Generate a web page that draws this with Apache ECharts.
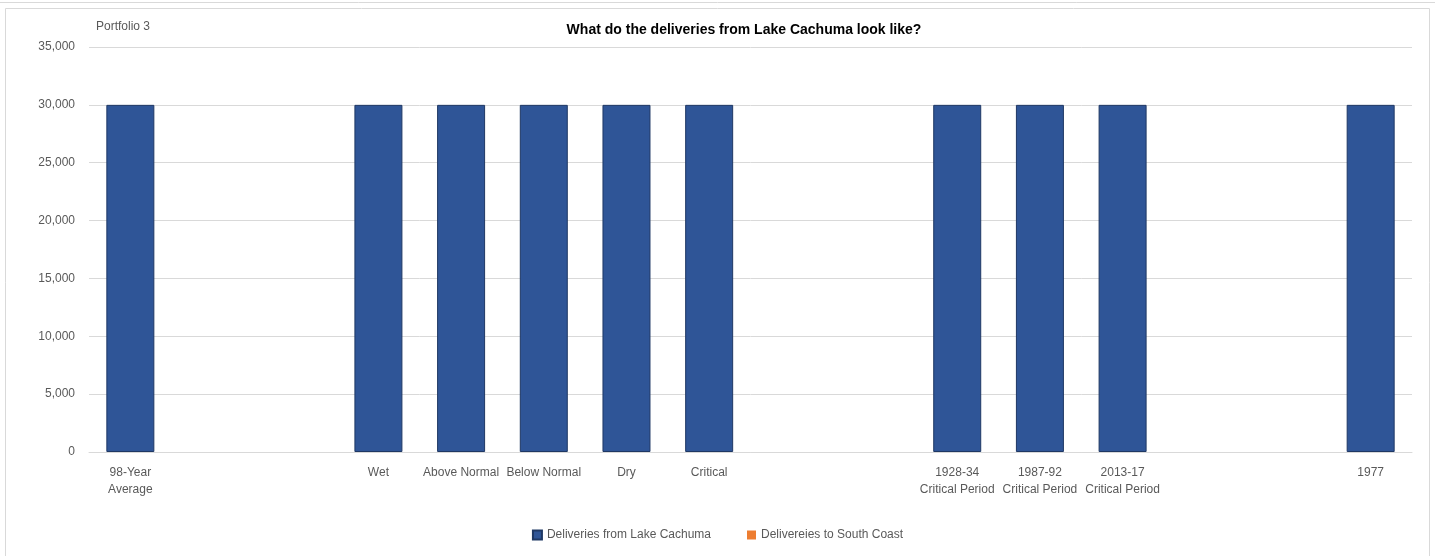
<!DOCTYPE html>
<html><head><meta charset="utf-8">
<script src="https://cdn.jsdelivr.net/npm/echarts@6/dist/echarts.min.js"></script>
<style>html,body{margin:0;padding:0;background:#fff}#c{width:1435px;height:556px}</style>
</head><body><div id="c"></div>
<script>
const categories = ["98-Year\nAverage", "", "", "Wet", "Above Normal", "Below Normal", "Dry", "Critical", "", "", "1928-34\nCritical Period", "1987-92\nCritical Period", "2013-17\nCritical Period", "", "", "1977"];
const lakeCachuma = [30000, null, null, 30000, 30000, 30000, 30000, 30000, null, null, 30000, 30000, 30000, null, null, 30000];
const southCoast = [0, null, null, 0, 0, 0, 0, 0, null, null, 0, 0, 0, null, null, 0];
const yTicks = {min: 0, max: 35000, interval: 5000};

const chart = echarts.init(document.getElementById('c'));
const font = "'Liberation Sans', 'Open Sans', sans-serif";
chart.setOption({
  animation: false,
  textStyle: {fontFamily: font},
  title: {text: 'What do the deliveries from Lake Cachuma look like?', left: 739, textAlign: 'center', top: 18,
    textStyle: {fontSize: 14, fontWeight: 'bold', color: '#000', fontFamily: font}},
  graphic: [
    {type: 'rect', shape: {x: 5.5, y: 8.5, width: 1424, height: 560}, style: {fill: 'none', stroke: '#d9d9d9', lineWidth: 1}},
    {type: 'line', shape: {x1: 0, y1: 2.5, x2: 1435, y2: 2.5}, style: {stroke: '#d9d9d9', lineWidth: 1}},
    {type: 'text', left: 96, top: 21, style: {text: 'Portfolio 3', fontSize: 12, fill: '#595959', fontFamily: font}}
  ],
  legend: {bottom: 10, left: 'center', itemWidth: 9, itemHeight: 9, itemGap: 36, icon: 'rect',
    textStyle: {fontSize: 12, color: '#595959'},
    data: ['Deliveries from Lake Cachuma', 'Delivereies to South Coast']},
  grid: {left: 89, right: 23, top: 47, bottom: 104},
  xAxis: {type: 'category', data: categories,
    axisLine: {lineStyle: {color: '#d9d9d9'}}, axisTick: {show: false},
    axisLabel: {interval: 0, color: '#595959', fontSize: 12, margin: 12, lineHeight: 17}},
  yAxis: {type: 'value', min: yTicks.min, max: yTicks.max, interval: yTicks.interval,
    axisLine: {show: false}, axisTick: {show: false},
    splitLine: {lineStyle: {color: '#d9d9d9'}},
    axisLabel: {color: '#595959', fontSize: 12, margin: 14,
      formatter: v => v.toLocaleString('en-US')}},
  series: [
    {name: 'Deliveries from Lake Cachuma', type: 'bar', stack: 's', data: lakeCachuma, barWidth: 48,
      itemStyle: {color: '#2F5597', borderColor: '#1F3864', borderWidth: 1}},
    {name: 'Delivereies to South Coast', type: 'bar', stack: 's', data: southCoast, barWidth: 48,
      itemStyle: {color: '#ED7D31'}}
  ]
});
</script></body></html>
